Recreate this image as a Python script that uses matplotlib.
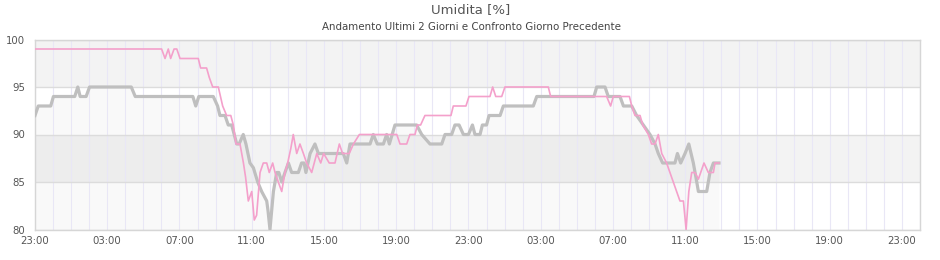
import matplotlib
matplotlib.use("Agg")
import matplotlib.pyplot as plt
from matplotlib.ticker import MultipleLocator

# ---- data (hours since 23:00 of the first day, humidity %) ----
gray_t = [0, 0.18, 0.87, 1.02, 2.2, 2.37, 2.5, 2.83, 3.02, 5.33, 5.55, 8.74, 8.9, 9.07,
          9.87, 10.11, 10.24, 10.52, 10.7, 10.89, 11.17, 11.3, 11.53, 11.68, 11.9, 12.09,
          12.33, 12.55, 12.83, 12.9, 13.01, 13.2, 13.38, 13.5, 13.66, 13.84, 14.03, 14.21,
          14.58, 14.76, 14.9, 15.0, 15.23, 15.5, 15.69, 17.07, 17.26, 17.44, 18.55, 18.73,
          18.95, 19.29, 19.47, 19.62, 19.93, 21.13, 21.41, 21.87, 22.52, 22.7, 23.07, 23.25,
          23.48, 23.72, 24.0, 24.22, 24.36, 24.64, 24.77, 25.0, 25.14, 25.75, 25.93, 27.59,
          27.78, 30.95, 31.1, 31.56, 31.74, 32.39, 32.58, 33.04, 33.31, 33.68, 34.05, 34.33,
          34.51, 34.75, 35.43, 35.57, 35.75, 35.99, 36.2, 36.45, 36.64, 36.73, 37.19, 37.37,
          37.56, 37.87]
gray_v = [92, 93, 93, 94, 94, 95, 94, 94, 95, 95, 94, 94, 93, 94,
          94, 93, 92, 92, 91, 91, 89, 89, 90, 89, 87, 86.5,
          85, 84, 83, 82, 80, 84, 86, 86, 85, 86, 87, 86,
          86, 87, 87, 86, 88, 89, 88, 88, 87, 89, 89, 90,
          89, 89, 90, 89, 91, 91, 90, 89, 89, 90, 90, 91,
          91, 90, 90, 91, 90, 90, 91, 91, 92, 92, 93, 93,
          94, 94, 95, 95, 94, 94, 93, 93, 92, 91, 90, 89,
          88, 87, 87, 88, 87, 88, 89, 87, 85, 84, 84, 86,
          87, 87]

pink_t = [0, 7.01, 7.2, 7.38, 7.51, 7.7, 7.85, 8.03, 9.04, 9.17, 9.5, 9.65, 9.84, 10.15,
          10.39, 10.61, 10.84, 10.98, 11.13, 11.35, 11.54, 11.66, 11.81, 12.0, 12.14, 12.27,
          12.46, 12.64, 12.83, 12.97, 13.16, 13.29, 13.47, 13.66, 13.84, 13.99, 14.16, 14.3,
          14.49, 14.67, 14.86, 15.04, 15.32, 15.6, 15.82, 15.98, 16.29, 16.61, 16.85, 17.03,
          17.4, 17.63, 17.96, 20.03, 20.21, 20.58, 20.76, 21.04, 21.17, 21.35, 21.59, 23.03,
          23.16, 23.86, 24.03, 25.19, 25.34, 25.51, 25.84, 26.02, 28.42, 28.55, 31.65, 31.87,
          32.02, 32.91, 33.04, 33.22, 33.5, 33.65, 33.96, 34.14, 34.33, 34.51, 34.7, 34.97,
          35.71, 35.9, 36.05, 36.2, 36.36, 36.54, 36.73, 37.04, 37.28, 37.56, 37.65, 37.87]
pink_v = [99, 99, 98, 99, 98, 99, 99, 98, 98, 97, 97, 96, 95, 95,
          93, 92, 92, 91, 89, 89, 87, 85.5, 83, 84, 81, 81.5,
          86, 87, 87, 86, 87, 86, 85, 84, 86, 87, 88.5, 90,
          88, 89, 88, 87, 86, 88, 87, 88, 87, 87, 89, 88,
          88, 89, 90, 90, 89, 89, 90, 90, 91, 91, 92, 92,
          93, 93, 94, 94, 95, 94, 94, 95, 95, 94, 94, 93,
          94, 94, 93, 92, 92, 91, 90, 89, 89, 90, 88, 87,
          83, 83, 80, 84, 86, 86, 85.3, 87, 86, 86, 87, 87]

tick_hours = [0, 4, 8, 12, 16, 20, 24, 28, 32, 36, 40, 44, 48]
tick_labels = ["23:00", "03:00", "07:00", "11:00", "15:00", "19:00",
               "23:00", "03:00", "07:00", "11:00", "15:00", "19:00", "23:00"]
y_ticks = [80, 85, 90, 95, 100]

title = "Umidita [%]"
subtitle = "Andamento Ultimi 2 Giorni e Confronto Giorno Precedente"

# ---- figure ----
plt.rcParams['font.family'] = ['DejaVu Sans']
fig = plt.figure(figsize=(9.4, 2.6), dpi=100)
ax = fig.add_axes([35 / 940, 1 - 229.5 / 260, 885 / 940, 190 / 260])

ax.set_xlim(0, 49.0)
ax.set_ylim(80, 100)

# plot bands
ax.axhspan(95, 100, color='#f3f3f3', zorder=0.1, lw=0)
ax.axhspan(85, 90, color='#f3f3f3', zorder=0.1, lw=0)

# grid
ax.set_axisbelow(True)
ax.xaxis.set_minor_locator(MultipleLocator(1))
ax.grid(True, which='minor', axis='x', color='#e9e7f6', lw=0.8)
ax.grid(True, which='major', axis='x', color='#e9e7f6', lw=0.8)
ax.grid(True, which='major', axis='y', color='#dcdcdc', lw=1.0)

# series
ax.fill_between(gray_t, gray_v, 80, color='black', alpha=0.022, lw=0, zorder=0.3)
ax.plot(gray_t, gray_v, color='#bfbfbf', lw=2.3, zorder=3, solid_joinstyle='round')
ax.plot(pink_t, pink_v, color='#f4a0cb', lw=1.2, zorder=4)

ax.set_xticks(tick_hours)
ax.set_xticklabels(tick_labels)
ax.set_yticks(y_ticks)
ax.tick_params(axis='both', which='both', length=0, labelsize=7.3, labelcolor='#555555')
ax.tick_params(axis='y', pad=7)
ax.tick_params(axis='x', pad=5)

for s in ax.spines.values():
    s.set_color('#d6d6d6')
    s.set_linewidth(1.0)

fig.text(471 / 940, 1 - 10 / 260, title, ha='center', va='center', fontsize=9.5, color='#555555')
fig.text(471 / 940, 1 - 26.5 / 260, subtitle, ha='center', va='center', fontsize=7.4, color='#444444')

fig.savefig("out.png", dpi=100)
